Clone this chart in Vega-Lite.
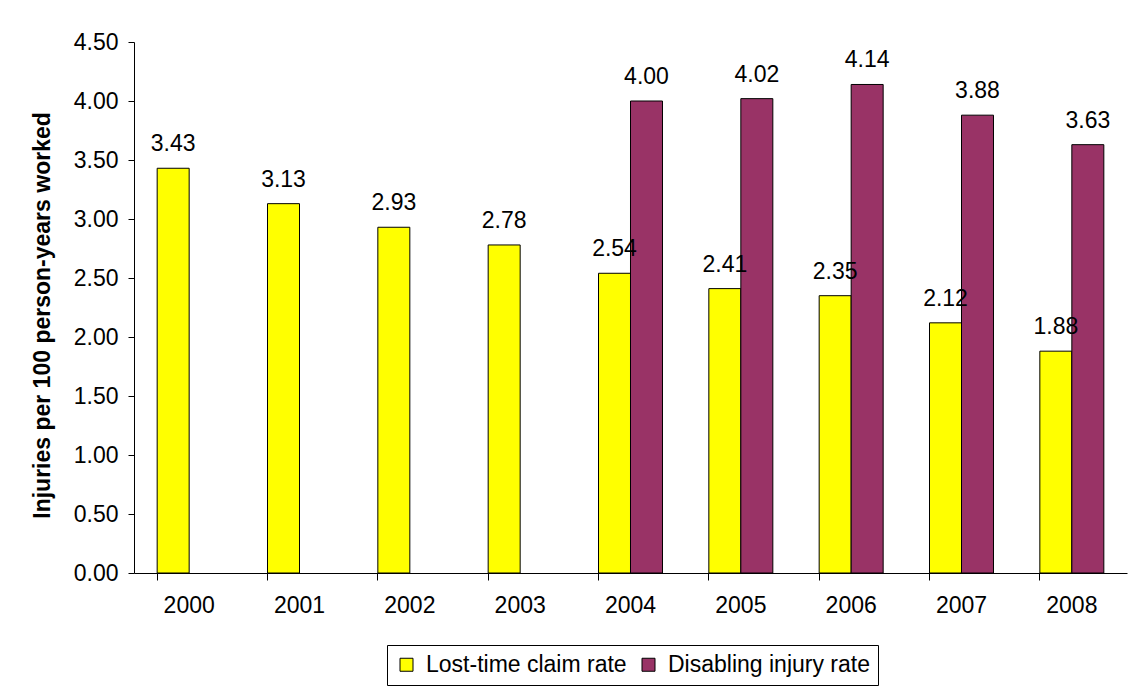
{
  "$schema": "https://vega.github.io/schema/vega-lite/v6.json",
  "width": 993,
  "height": 531,
  "autosize": {"type": "none"},
  "padding": {"left": 134, "top": 42, "right": 4, "bottom": 117},
  "background": "white",
  "config": {
    "view": {"stroke": null},
    "font": "Liberation Sans",
    "axis": {"grid": false, "domainColor": "black", "tickColor": "black", "labelColor": "black", "labelFont": "Liberation Sans", "labelFontSize": 23, "titleFont": "Liberation Sans"},
    "legend": {"labelFont": "Liberation Sans"}
  },
  "data": {
    "values": [
      {"year": "2000", "series": "Lost-time claim rate", "rate": 3.43},
      {"year": "2001", "series": "Lost-time claim rate", "rate": 3.13},
      {"year": "2002", "series": "Lost-time claim rate", "rate": 2.93},
      {"year": "2003", "series": "Lost-time claim rate", "rate": 2.78},
      {"year": "2004", "series": "Lost-time claim rate", "rate": 2.54},
      {"year": "2005", "series": "Lost-time claim rate", "rate": 2.41},
      {"year": "2006", "series": "Lost-time claim rate", "rate": 2.35},
      {"year": "2007", "series": "Lost-time claim rate", "rate": 2.12},
      {"year": "2008", "series": "Lost-time claim rate", "rate": 1.88},
      {"year": "2004", "series": "Disabling injury rate", "rate": 4.00},
      {"year": "2005", "series": "Disabling injury rate", "rate": 4.02},
      {"year": "2006", "series": "Disabling injury rate", "rate": 4.14},
      {"year": "2007", "series": "Disabling injury rate", "rate": 3.88},
      {"year": "2008", "series": "Disabling injury rate", "rate": 3.63}
    ]
  },
  "encoding": {
    "x": {
      "field": "year",
      "type": "nominal",
      "scale": {"paddingInner": 0.42, "paddingOuter": 0.21},
      "axis": {"title": null, "labelAngle": 0, "tickSize": 7, "labelPadding": 14, "bandPosition": 0, "domainWidth": 1}
    },
    "xOffset": {
      "field": "series",
      "type": "nominal",
      "scale": {"domain": ["Lost-time claim rate", "Disabling injury rate"], "paddingInner": 0, "paddingOuter": 0}
    },
    "y": {
      "field": "rate",
      "type": "quantitative",
      "scale": {"domain": [0, 4.5], "nice": false},
      "axis": {
        "title": "Injuries per 100 person-years worked",
        "titleFontSize": 23,
        "titleFontWeight": "bold",
        "titleColor": "black",
        "titlePadding": 19,
        "titleY": 273,
        "values": [0, 0.5, 1, 1.5, 2, 2.5, 3, 3.5, 4, 4.5],
        "format": ".2f",
        "tickSize": 6,
        "labelPadding": 10
      }
    }
  },
  "layer": [
    {
      "mark": {"type": "bar", "stroke": "black", "strokeWidth": 1},
      "encoding": {
        "fill": {
          "field": "series",
          "type": "nominal",
          "scale": {"domain": ["Lost-time claim rate", "Disabling injury rate"], "range": ["#FFFF00", "#993366"]},
          "legend": {
            "title": null,
            "orient": "none",
            "direction": "horizontal",
            "legendX": 253,
            "legendY": 603,
            "symbolType": "square",
            "symbolSize": 169,
            "symbolStrokeColor": "black",
            "symbolStrokeWidth": 1,
            "symbolOpacity": 1,
            "labelFontSize": 23,
            "labelLimit": 0,
            "labelColor": "black",
            "labelOffset": 8,
            "columnPadding": 10,
            "padding": 8,
            "strokeColor": "black",
            "fillColor": "white"
          }
        }
      }
    },
    {
      "mark": {"type": "text", "baseline": "alphabetic", "dy": -17, "fontSize": 23, "color": "black"},
      "encoding": {
        "text": {"field": "rate", "type": "quantitative", "format": ".2f"}
      }
    }
  ]
}
